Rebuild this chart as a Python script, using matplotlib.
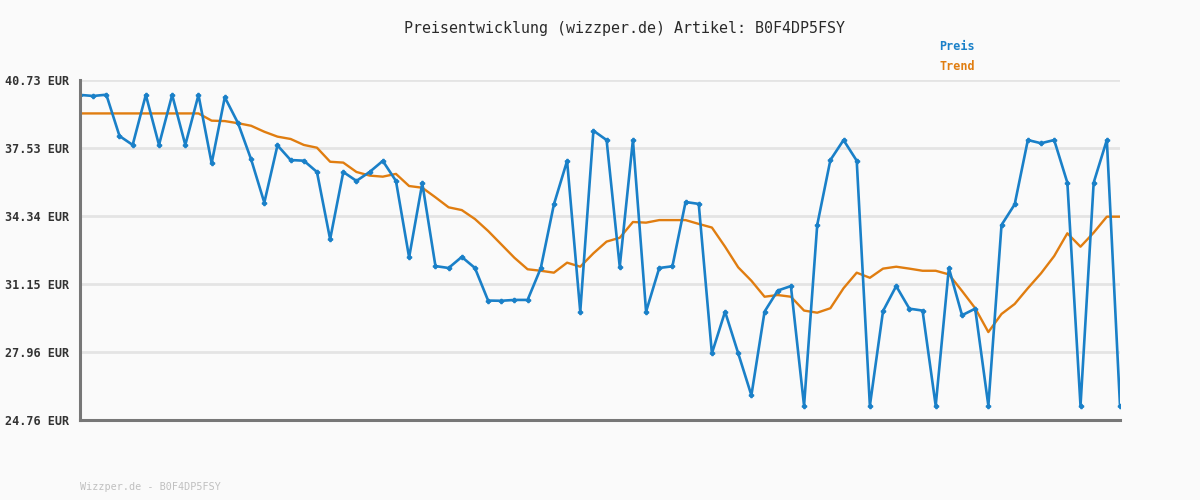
import matplotlib
matplotlib.use("Agg")
import matplotlib.pyplot as plt

preis = [40.03, 39.98, 40.04, 38.10, 37.68, 40.03, 37.68, 40.03, 37.68, 40.03,
         36.82, 39.92, 38.71, 37.00, 34.97, 37.66, 36.97, 36.94, 36.41, 33.25,
         36.41, 35.99, 36.41, 36.93, 35.99, 32.40, 35.88, 31.99, 31.90, 32.42,
         31.90, 30.37, 30.36, 30.40, 30.40, 31.89, 34.89, 36.93, 29.85, 38.35,
         37.91, 31.96, 37.91, 29.85, 31.90, 31.98, 35.00, 34.91, 27.89, 29.85,
         27.89, 25.92, 29.85, 30.84, 31.05, 25.43, 33.92, 36.97, 37.91, 36.94,
         25.43, 29.88, 31.05, 29.99, 29.90, 25.43, 31.90, 29.68, 29.99, 25.43,
         33.92, 34.89, 37.91, 37.76, 37.91, 35.91, 25.43, 35.91, 37.91, 25.43]

trend = [39.16, 39.16, 39.16, 39.16, 39.16, 39.16, 39.16, 39.16, 39.16, 39.16,
         38.82, 38.80, 38.70, 38.58, 38.30, 38.07, 37.96, 37.68, 37.55, 36.89,
         36.85, 36.41, 36.24, 36.19, 36.32, 35.75, 35.67, 35.22, 34.75, 34.62,
         34.20, 33.64, 33.01, 32.38, 31.84, 31.77, 31.68, 32.15, 31.96, 32.59,
         33.14, 33.32, 34.06, 34.03, 34.15, 34.15, 34.15, 33.97, 33.80, 32.90,
         31.93, 31.30, 30.55, 30.63, 30.55, 29.90, 29.80, 30.01, 30.95, 31.68,
         31.44, 31.87, 31.96, 31.87, 31.77, 31.77, 31.60, 30.82, 30.01, 28.89,
         29.74, 30.21, 30.95, 31.65, 32.46, 33.53, 32.90, 33.56, 34.31, 34.31]

y_ticks = [24.76, 27.96, 31.15, 34.34, 37.53, 40.73]
y_labels = ["24.76 EUR", "27.96 EUR", "31.15 EUR", "34.34 EUR", "37.53 EUR", "40.73 EUR"]

BLUE = "#1a80c8"
ORANGE = "#e07d10"
BG = "#fafafa"
MONO = "DejaVu Sans Mono"

fig = plt.figure(figsize=(12, 5), dpi=100, facecolor=BG)
ax = fig.add_axes([80 / 1200, 0.16, 1040 / 1200, 0.68], facecolor=BG)

x = list(range(len(preis)))
ax.plot(x, trend, color=ORANGE, lw=1.7, zorder=3)
ax.plot(x, preis, color=BLUE, lw=1.9, marker="P", markersize=3, zorder=4)

ax.set_xlim(0, len(preis) - 1)
ax.set_ylim(y_ticks[0], y_ticks[-1])
ax.set_yticks(y_ticks)
ax.set_yticklabels(y_labels, fontfamily=MONO, fontweight="bold", fontsize=8.5, color="#333333")
ax.set_xticks([])
ax.tick_params(axis="y", length=0, pad=8)
ax.grid(axis="y", color="#e4e4e4", lw=2, zorder=0)

for side in ["top", "right"]:
    ax.spines[side].set_visible(False)
for side in ["left", "bottom"]:
    ax.spines[side].set_color("#777777")
    ax.spines[side].set_linewidth(2.2)
    ax.spines[side].set_zorder(5)

fig.text(624 / 1200, 1 - 28 / 500, "Preisentwicklung (wizzper.de) Artikel: B0F4DP5FSY",
         ha="center", va="center", fontfamily=MONO, fontsize=10.8, color="#2a2a2a")
fig.text(939 / 1200, 1 - 47 / 500, "Preis", ha="left", va="center",
         fontfamily=MONO, fontweight="bold", fontsize=8.5, color=BLUE)
fig.text(939 / 1200, 1 - 67 / 500, "Trend", ha="left", va="center",
         fontfamily=MONO, fontweight="bold", fontsize=8.5, color=ORANGE)
fig.text(80 / 1200, 1 - 487 / 500, "Wizzper.de - B0F4DP5FSY", ha="left", va="center",
         fontfamily=MONO, fontsize=7.3, color="#c0c0c0")

fig.savefig("out.png", dpi=100, facecolor=BG)
